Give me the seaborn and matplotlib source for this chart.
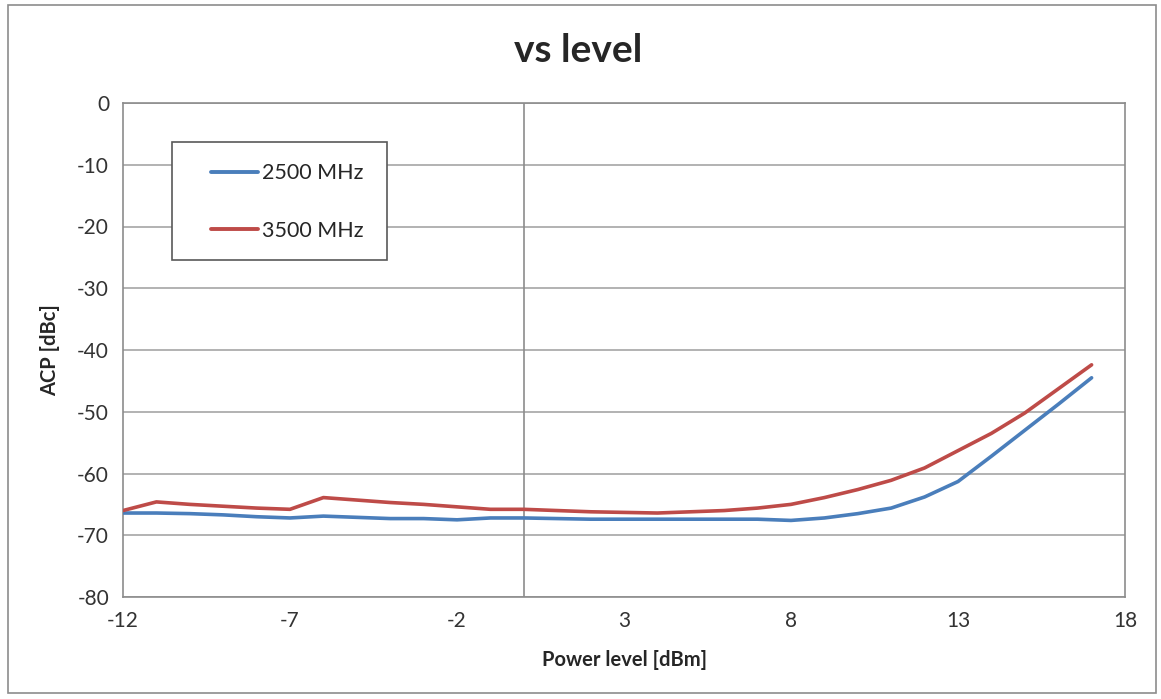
import numpy as np
import pandas as pd
import matplotlib
matplotlib.use("Agg")
import matplotlib.pyplot as plt
import seaborn as sns

# ===================== data =====================
power_dbm = list(range(-12, 18))

acp_2500 = [-66.4, -66.4, -66.5, -66.7, -67.0, -67.2, -66.9, -67.1, -67.3, -67.3,
            -67.5, -67.2, -67.2, -67.3, -67.4, -67.4, -67.4, -67.4, -67.4, -67.4,
            -67.6, -67.2, -66.5, -65.6, -63.8, -61.3, -57.2, -53.0, -48.8, -44.5]

acp_3500 = [-66.0, -64.6, -65.0, -65.3, -65.6, -65.8, -63.9, -64.3, -64.7, -65.0,
            -65.4, -65.8, -65.8, -66.0, -66.2, -66.3, -66.4, -66.2, -66.0, -65.6,
            -65.0, -63.9, -62.6, -61.1, -59.1, -56.3, -53.5, -50.2, -46.3, -42.4]

series_names = ["2500 MHz", "3500 MHz"]
series_colors = ["#4a7ebb", "#be4b48"]

x_ticks = [-12, -7, -2, 3, 8, 13, 18]
y_ticks = [0, -10, -20, -30, -40, -50, -60, -70, -80]

df = pd.DataFrame({
    "power": power_dbm * 2,
    "acp": acp_2500 + acp_3500,
    "freq": [series_names[0]] * len(power_dbm) + [series_names[1]] * len(power_dbm),
})

# ===================== style =====================
sns.set_style("white")
plt.rcParams['font.family'] = ['Lato', 'DejaVu Sans']
plt.rcParams['axes.unicode_minus'] = False

fig = plt.figure(figsize=(11.61, 6.99), dpi=100)
W, H = 1161, 699
ax = fig.add_axes([123 / W, 1 - 597 / H, (1125 - 123) / W, (597 - 103) / H])

# outer chart border
fig.patches.append(plt.Rectangle((8 / W, 6 / H), (1156 - 8) / W, (694 - 6) / H,
                                 transform=fig.transFigure, fill=False,
                                 edgecolor="#8c8c8c", linewidth=1.2))

ax.set_xlim(-12, 18)
ax.set_ylim(-80, 0)
ax.set_yticks(y_ticks)
ax.set_xticks(x_ticks)
ax.yaxis.grid(True, color="#a6a6a6", linewidth=1.2)
ax.set_axisbelow(True)
ax.axvline(0, color="#8c8c8c", linewidth=1.2, zorder=1)

sns.lineplot(data=df, x="power", y="acp", hue="freq", palette=series_colors,
             linewidth=2.6, ax=ax, legend=False, zorder=3)

for s in ["left", "right", "bottom", "top"]:
    ax.spines[s].set_color("#8c8c8c")
    ax.spines[s].set_linewidth(1.2)

ax.tick_params(axis="both", length=0, labelsize=15, colors="#333333", pad=10)
ax.set_xlabel("Power level [dBm]", fontsize=14.5, fontweight="bold", labelpad=14)
ax.set_ylabel("ACP [dBc]", fontsize=14.5, fontweight="bold", labelpad=12)

fig.text(578 / W, 1 - 50 / H, "vs level", ha="center", va="center",
         fontsize=28, fontweight="bold")

# legend frame drawn separately (Excel-style asymmetric padding)
ax.add_patch(plt.Rectangle((172 / W, 1 - 260 / H), (387 - 172) / W, (260 - 142) / H,
                           transform=fig.transFigure, fill=True, facecolor="white",
                           edgecolor="#595959", linewidth=1.2, zorder=4))
handles = [plt.Line2D([], [], color=c, linewidth=2.8) for c in series_colors]
leg = ax.legend(handles, series_names, loc="center left",
                bbox_to_anchor=(211 / W, 1 - 202 / H), bbox_transform=fig.transFigure,
                fontsize=15.5, frameon=False, labelspacing=1.75,
                handlelength=2.2, handletextpad=0.15, borderpad=0,
                borderaxespad=0)
leg.set_zorder(5)

plt.savefig("out.png", dpi=100)
